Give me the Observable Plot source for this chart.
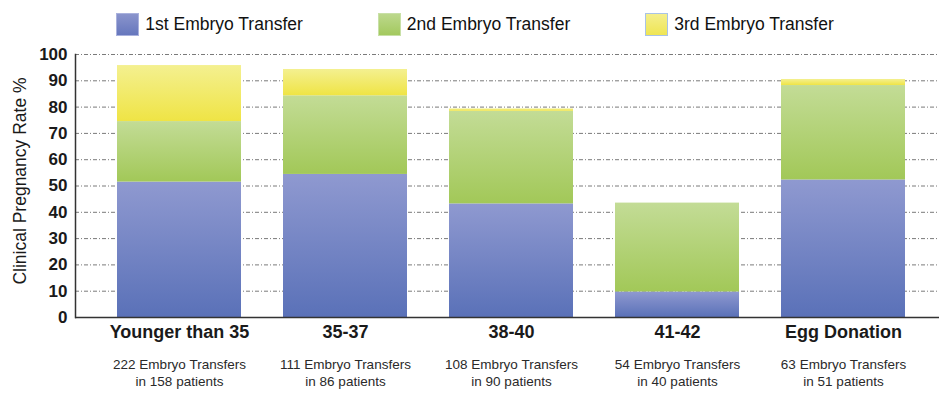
<!DOCTYPE html>
<html>
<head>
<meta charset="utf-8">
<script src="https://cdn.jsdelivr.net/npm/d3@7"></script>
<script src="https://cdn.jsdelivr.net/npm/@observablehq/plot@0.6"></script>
<style>
  html, body { margin: 0; padding: 0; background: #fff; }
  body { width: 950px; height: 396px; overflow: hidden; color: #1a1a1a;
         font-family: "Liberation Sans", Arial, Helvetica, sans-serif; }
  #legend { height: 40px; box-sizing: border-box; padding-top: 9px;
            display: flex; justify-content: center; align-items: center; gap: 75px; }
  #legend .item { display: flex; align-items: center; gap: 6px; font-size: 17.5px; color: #111;
                  height: 24px; }
  #legend .sw { width: 21px; height: 21px; border: 1.5px solid; }
  #chart svg { display: block; overflow: visible; }
</style>
</head>
<body>
<svg width="0" height="0" style="position:absolute">
  <defs>
    <linearGradient id="g1" x1="0" y1="0" x2="0" y2="1">
      <stop offset="0" stop-color="#8f99d0"/><stop offset="1" stop-color="#5a71b8"/>
    </linearGradient>
    <linearGradient id="g2" x1="0" y1="0" x2="0" y2="1">
      <stop offset="0" stop-color="#c3dc96"/><stop offset="1" stop-color="#a2c858"/>
    </linearGradient>
    <linearGradient id="g3" x1="0" y1="0" x2="0" y2="1">
      <stop offset="0" stop-color="#f4f090"/><stop offset="1" stop-color="#efe445"/>
    </linearGradient>
  </defs>
</svg>
<div id="legend"></div>
<div id="chart"></div>
<script>
// ---- data ----
const categories = ["Younger than 35", "35-37", "38-40", "41-42", "Egg Donation"];
const seriesNames = ["1st Embryo Transfer", "2nd Embryo Transfer", "3rd Embryo Transfer"];
const firstTransfer  = [51.5, 54.4, 43.2, 9.7, 52.3];
const secondTransfer = [23.0, 29.9, 35.2, 33.8, 35.9];
const thirdTransfer  = [21.3, 10.0, 0.9, 0.0, 2.3];
const embryoTransfers = [222, 111, 108, 54, 63];
const patients = [158, 86, 90, 40, 51];
const yTicks = [0, 10, 20, 30, 40, 50, 60, 70, 80, 90, 100];

// ---- styles ----
const fills = ["url(#g1)", "url(#g2)", "url(#g3)"];
const swatchStyles = [
  ["linear-gradient(#8a94cc,#6677bd)", "#a9b1dd"],
  ["linear-gradient(#bcd88c,#a3c95e)", "#c8e0a6"],
  ["linear-gradient(#f4ef8c,#efe553)", "#a9c3e6"]
];

// legend
const legend = document.getElementById("legend");
seriesNames.forEach((name, i) => {
  const item = document.createElement("div");
  item.className = "item";
  const sw = document.createElement("div");
  sw.className = "sw";
  sw.style.background = swatchStyles[i][0];
  sw.style.borderColor = swatchStyles[i][1];
  const t = document.createElement("span");
  t.textContent = name;
  item.appendChild(sw);
  item.appendChild(t);
  legend.appendChild(item);
});

// tidy table
const seriesValues = [firstTransfer, secondTransfer, thirdTransfer];
const rows = [];
categories.forEach((c, ci) => {
  seriesNames.forEach((s, si) => {
    rows.push({category: c, series: s, value: seriesValues[si][ci]});
  });
});

const subLabels = categories.map((c, i) => `${embryoTransfers[i]} Embryo Transfers\nin ${patients[i]} patients`);

const chart = Plot.plot({
  width: 950,
  height: 356,
  marginLeft: 75,
  marginRight: 11,
  marginTop: 14,
  marginBottom: 79,
  style: {fontFamily: "'Liberation Sans', Arial, Helvetica, sans-serif", color: "#1a1a1a", background: "transparent"},
  x: {domain: categories, paddingInner: 0.254, paddingOuter: 0.2155, align: 0.55, label: null},
  y: {domain: [0, 100], label: null},
  color: {domain: seriesNames, range: fills},
  marks: [
    Plot.ruleY(yTicks.filter(d => d > 0), {stroke: "#7a7a7a", strokeWidth: 1, strokeDasharray: "4,2,1,2"}),
    Plot.barY(rows, Plot.stackY({x: "category", y: "value", fill: "series"})),
    Plot.ruleY([0], {stroke: "#333", strokeWidth: 1.5}),
    Plot.frame({anchor: "left", stroke: "#333", strokeWidth: 1.5}),
    Plot.axisY({ticks: yTicks, tickSize: 0, tickPadding: 8, fontSize: 17, fontWeight: "bold", label: null}),
    Plot.axisX({tickSize: 0, tickPadding: 8, fontSize: 18, fontWeight: "bold", label: null}),
    Plot.text(categories, {x: d => d, text: (d, i) => subLabels[i], frameAnchor: "bottom", lineAnchor: "top",
      dy: 39.4, fontSize: 13.5, lineHeight: 1.26, fill: "#2a2a2a"}),
    Plot.text(["Clinical Pregnancy Rate %"], {text: d => d, frameAnchor: "left", textAnchor: "middle",
      lineAnchor: "middle", rotate: -90, dx: -55, dy: -5, fontSize: 17.5, fill: "#1a1a1a"})
  ]
});
document.getElementById("chart").appendChild(chart);
</script>
</body>
</html>
